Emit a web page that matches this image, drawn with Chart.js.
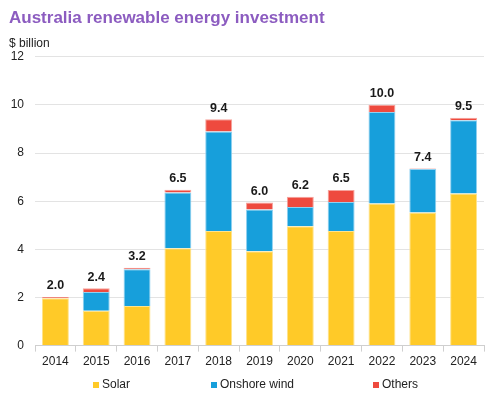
<!DOCTYPE html>
<html>
<head>
<meta charset="utf-8">
<script src="https://cdn.jsdelivr.net/npm/chart.js@4.4.1/dist/chart.umd.min.js"></script>
<style>
  html, body { margin: 0; padding: 0; background: #fff; }
  #wrap { width: 488px; height: 406px; position: relative; }
</style>
</head>
<body>
<div id="wrap"><canvas id="chart"></canvas></div>
<script>
const years = ['2014', '2015', '2016', '2017', '2018', '2019', '2020', '2021', '2022', '2023', '2024'];
const solar = [1.97, 1.45, 1.65, 4.04, 4.76, 3.92, 4.96, 4.76, 5.90, 5.53, 6.32];
const onshoreWind = [0, 0.78, 1.52, 2.32, 4.14, 1.74, 0.80, 1.21, 3.81, 1.81, 3.04];
const others = [0.05, 0.15, 0.06, 0.12, 0.50, 0.29, 0.42, 0.50, 0.30, 0.02, 0.11];
const totalLabels = ['2.0', '2.4', '3.2', '6.5', '9.4', '6.0', '6.2', '6.5', '10.0', '7.4', '9.5'];
const yTicks = [0, 2, 4, 6, 8, 10, 12];

const FONT = '"Liberation Sans", Arial, sans-serif';

// writes the total above each stacked bar
const totalsPlugin = {
  id: 'totals',
  afterDatasetsDraw(chart) {
    const ctx = chart.ctx;
    const top = chart.getDatasetMeta(chart.data.datasets.length - 1);
    ctx.save();
    ctx.font = 'bold 12.5px ' + FONT;
    ctx.fillStyle = '#1a1a1a';
    ctx.textAlign = 'center';
    ctx.textBaseline = 'bottom';
    top.data.forEach((bar, i) => {
      ctx.fillText(totalLabels[i], bar.x, bar.y - 5);
    });
    ctx.restore();
  }
};

// legend spread out along the bottom like the original
const legendX = [93, 211, 373];
const spreadLegend = {
  id: 'spreadLegend',
  afterDraw(chart) {
    const ctx = chart.ctx;
    const y = 385;
    ctx.save();
    ctx.font = '12px ' + FONT;
    ctx.textBaseline = 'middle';
    chart.data.datasets.forEach((ds, i) => {
      ctx.fillStyle = ds.backgroundColor;
      ctx.fillRect(legendX[i], y - 3, 6, 6);
      ctx.fillStyle = '#222';
      ctx.fillText(ds.label, legendX[i] + 9, y);
    });
    ctx.restore();
  }
};

new Chart(document.getElementById('chart'), {
  type: 'bar',
  data: {
    labels: years,
    datasets: [
      { label: 'Solar', data: solar, backgroundColor: '#FFCA28', borderColor: '#FFE38A', borderWidth: 1 },
      { label: 'Onshore wind', data: onshoreWind, backgroundColor: '#179FDB', borderColor: '#8FD0F0', borderWidth: 1 },
      { label: 'Others', data: others, backgroundColor: '#EE4A3E', borderColor: '#F6A39C', borderWidth: 1 }
    ]
  },
  options: {
    responsive: true,
    maintainAspectRatio: false,
    animation: false,
    layout: { padding: { left: 9, right: 4, top: 4, bottom: 34 } },
    datasets: { bar: { categoryPercentage: 1, barPercentage: 0.66 } },
    plugins: {
      title: {
        display: true,
        text: 'Australia renewable energy investment',
        align: 'start',
        color: '#8C5CC0',
        font: { family: FONT, size: 17, weight: 'bold' },
        padding: { top: 4, bottom: 8 }
      },
      subtitle: {
        display: true,
        text: '$ billion',
        align: 'start',
        color: '#222',
        font: { family: FONT, size: 12 },
        padding: { top: 0, bottom: 6 }
      },
      legend: { display: false },
      tooltip: { enabled: false }
    },
    scales: {
      x: {
        stacked: true,
        grid: { display: true, drawOnChartArea: false, offset: true, color: '#cfcfcf', tickLength: 6 },
        border: { color: '#cfcfcf' },
        ticks: { color: '#222', font: { family: FONT, size: 12 }, padding: 3 }
      },
      y: {
        stacked: true,
        min: 0,
        max: 12,
        afterBuildTicks(axis) { axis.ticks = yTicks.map(v => ({ value: v })); },
        afterFit(axis) { axis.width = 26; },
        grid: { color: '#e3e3e3', drawTicks: false },
        border: { display: false },
        ticks: { color: '#222', font: { family: FONT, size: 12 }, padding: 11 }
      }
    }
  },
  plugins: [totalsPlugin, spreadLegend]
});
</script>
</body>
</html>
